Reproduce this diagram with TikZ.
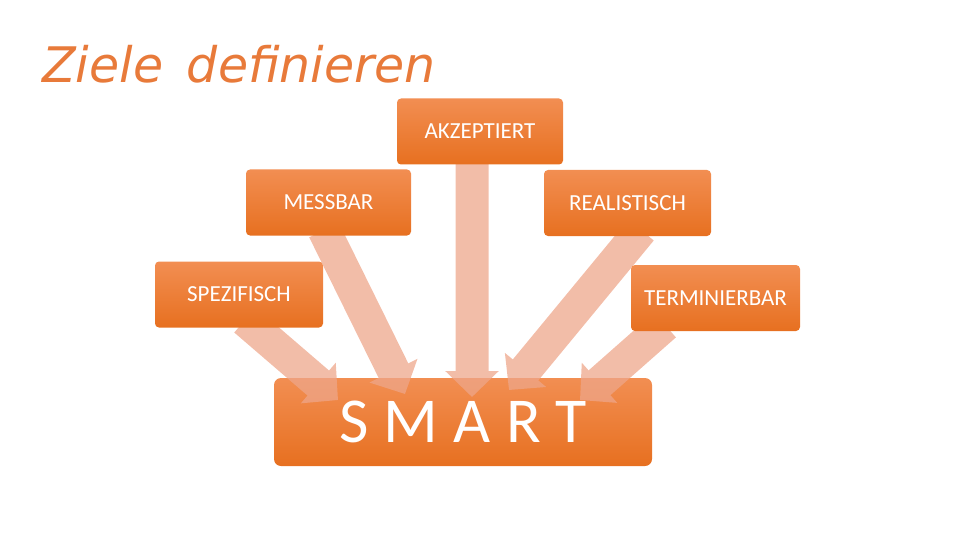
\documentclass[tikz,border=0pt]{standalone}
\usepackage{fontspec}
\setmainfont{Carlito}
\newfontfamily\titlefont{DejaVu Sans}
\newfontfamily\smartfont[LetterSpace=24]{Carlito}
\usetikzlibrary{arrows.meta}
\definecolor{boxtop}{RGB}{242,142,82}
\definecolor{boxbot}{RGB}{231,112,32}
\definecolor{arrowc}{RGB}{238,166,138}
\definecolor{titlec}{RGB}{232,122,58}
\tikzset{
  box/.style={rounded corners=4pt, top color=boxtop, bottom color=boxbot,
    draw=none, text=white, font=\fontsize{23}{26}\selectfont,
    minimum width=#1, minimum height=66pt, inner sep=0pt},
  box/.default=166pt,
  blockarrow/.style={draw=arrowc, line width=33pt,
    -{Triangle[width=52pt,length=26pt]}},
}
\begin{document}
\begin{tikzpicture}[x=1pt,y=-1pt]
\useasboundingbox (0,0) rectangle (960,540);
\node[anchor=base west, text=titlec, font=\titlefont\itshape\fontsize{49}{55}\selectfont, inner sep=0pt]
  (title) at (42,83) {Ziele\, definieren};

\node[box=378pt, minimum height=88pt, rounded corners=7pt] (smart) at (463,422)
  {\smartfont\fontsize{64}{70}\selectfont SMART};

% arrow end points
\coordinate (s1) at (245,320); \coordinate (e1) at (338,400);
\coordinate (s2) at (324,230); \coordinate (e2) at (405,394);
\coordinate (s3) at (472,160); \coordinate (e3) at (472,397);
\coordinate (s4) at (641,230); \coordinate (e4) at (509,390);
\coordinate (s5) at (665,325); \coordinate (e5) at (580,400);

\begin{scope}[transparency group, opacity=0.74]
  \draw[blockarrow] (s1) -- (e1);
  \draw[blockarrow] (s2) -- (e2);
  \draw[blockarrow] (s3) -- (e3);
  \draw[blockarrow] (s4) -- (e4);
  \draw[blockarrow] (s5) -- (e5);
\end{scope}

\node[box] (akz) at (480,131.5) {AKZEPTIERT};
\node[box=165pt] (mess) at (328.5,202.5) {MESSBAR};
\node[box=167pt] (real) at (627.5,203) {REALISTISCH};
\node[box=168pt] (spez) at (239,294.5) {SPEZIFISCH};
\node[box=169pt] (term) at (715.5,298) {TERMINIERBAR};
\end{tikzpicture}
\end{document}
